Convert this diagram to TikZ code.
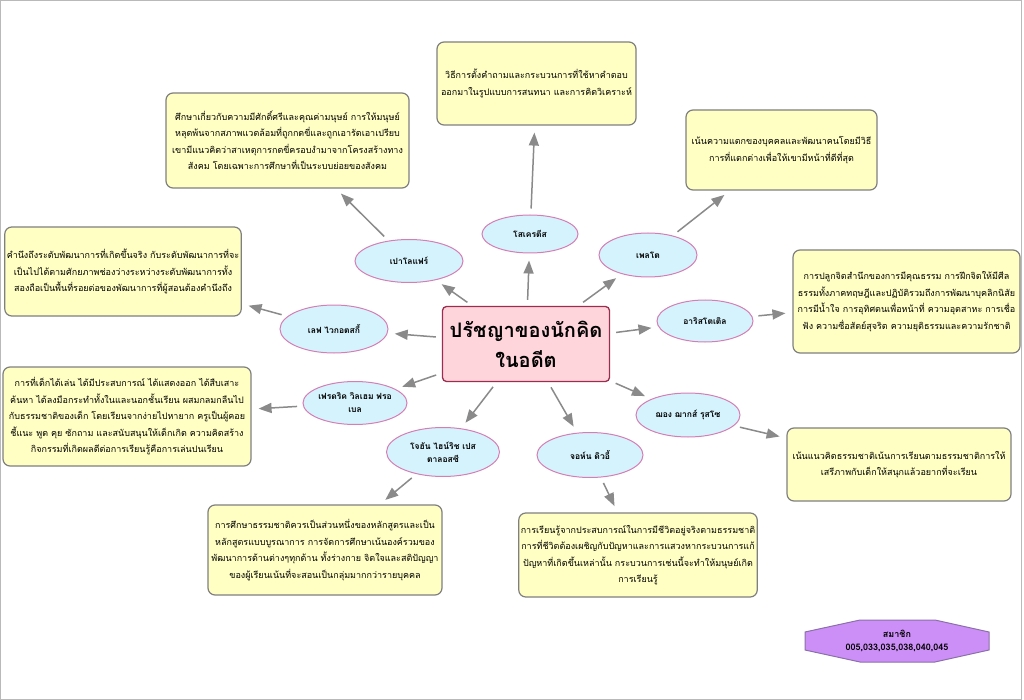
\documentclass[tikz,border=0pt]{standalone}
\usepackage{fontspec}
\setmainfont[Script=Thai, BoldFont={Loma Bold}]{Loma}
\usetikzlibrary{arrows.meta,shapes.geometric}
\definecolor{notefill}{HTML}{FFFFC4}
\definecolor{noteline}{HTML}{7F7F7F}
\definecolor{ovalfill}{HTML}{D5F3FD}
\definecolor{ovalline}{HTML}{D67DB4}
\definecolor{mainfill}{HTML}{FFD5DC}
\definecolor{mainline}{HTML}{9B2D4F}
\definecolor{tipgray}{HTML}{8A8A8A}
\definecolor{teamfill}{HTML}{CC8FF7}
\definecolor{teamline}{HTML}{8B6FA8}
\begin{document}
\begin{tikzpicture}[x=1pt, y=-1pt,
    note/.style={draw=noteline, fill=notefill, rounded corners=7pt, line width=1.2pt,
        align=center, inner sep=2pt, font=\fontsize{9}{16.5}\selectfont},
    thinker/.style={ellipse, draw=ovalline, fill=ovalfill, line width=1pt, align=center,
        inner sep=0pt, font=\bfseries\fontsize{8.5}{13}\selectfont},
    arrow/.style={-{Triangle[length=13pt,width=10pt]}, line width=1.5pt, draw=tipgray,
        shorten <=6pt, shorten >=7pt}
]
\useasboundingbox (0,0) rectangle (1024,700);
\draw[gray!55, line width=1pt] (0.5,0.5) rectangle (1021.5,699.5);

% centre
\node[draw=mainline, fill=mainfill, rounded corners=4pt, line width=1.3pt, align=center,
    minimum width=167pt, minimum height=75pt, font=\bfseries\fontsize{20}{30}\selectfont]
    (C) at (526,344) {ปรัชญาของนักคิด\\ในอดีต};

% thinkers
\node[thinker, minimum width=96pt, minimum height=38pt] (P1) at (530,234) {โสเครตีส};
\node[thinker, minimum width=98pt, minimum height=44pt] (P2) at (648,255) {เพลโต};
\node[thinker, minimum width=108pt, minimum height=43pt] (P3) at (409,261) {เปาโลแฟร์};
\node[thinker, minimum width=108pt, minimum height=48pt] (P4) at (334,329) {เลฟ ไวกอตสกี้};
\node[thinker, minimum width=96pt, minimum height=42pt] (P5) at (705,321) {อาริสโตเติล};
\node[thinker, minimum width=104pt, minimum height=43pt] (P6) at (355,403) {เฟรดริค วิลเฮม ฟรอ\\เบล};
\node[thinker, minimum width=113pt, minimum height=49pt] (P7) at (443,452) {โจฮัน ไฮน์ริช เปส\\ตาลอสซี};
\node[thinker, minimum width=106pt, minimum height=45pt] (P8) at (590,455) {จอห์น ดิวอี้};
\node[thinker, minimum width=104pt, minimum height=44pt] (P9) at (688,415) {ฌอง ฌากส์ รุสโซ};

% ideas
\node[note, minimum width=199pt, minimum height=83pt] (T1) at (536.5,83.5)
    {วิธีการตั้งคำถามและกระบวนการที่ใช้หาคำตอบ\\ออกมาในรูปแบบการสนทนา และการคิดวิเคราะห์};
\node[note, minimum width=191pt, minimum height=80pt] (T2) at (781.5,150)
    {เน้นความแตกของบุคคลและพัฒนาคนโดยมีวิธี\\การที่แตกต่างเพื่อให้เขามีหน้าที่ดีที่สุด};
\node[note, minimum width=243pt, minimum height=95pt] (T3) at (287.5,140.5)
    {ศึกษาเกี่ยวกับความมีศักดิ์ศรีและคุณค่ามนุษย์ การให้มนุษย์\\หลุดพ้นจากสภาพแวดล้อมที่ถูกกดขี่และถูกเอารัดเอาเปรียบ\\เขามีแนวคิดว่าสาเหตุการกดขี่ครอบงำมาจากโครงสร้างทาง\\สังคม โดยเฉพาะการศึกษาที่เป็นระบบย่อยของสังคม};
\node[note, minimum width=236pt, minimum height=89pt] (T4) at (123,271.5)
    {คำนึงถึงระดับพัฒนาการที่เกิดขึ้นจริง กับระดับพัฒนาการที่จะ\\เป็นไปได้ตามศักยภาพช่องว่างระหว่างระดับพัฒนาการทั้ง\\สองถือเป็นพื้นที่รอยต่อของพัฒนาการที่ผู้สอนต้องคำนึงถึง};
\node[note, minimum width=227pt, minimum height=103pt] (T5) at (906.5,301.5)
    {การปลูกจิตสำนึกของการมีคุณธรรม การฝึกจิตให้มีศีล\\ธรรมทั้งภาคทฤษฎีและปฏิบัติรวมถึงการพัฒนาบุคลิกนิสัย\\การมีน้ำใจ การอุทิศตนเพื่อหน้าที่ ความอุตสาหะ การเชื่อ\\ฟัง ความซื่อสัตย์สุจริต ความยุติธรรมและความรักชาติ};
\node[note, minimum width=248pt, minimum height=99pt] (T6) at (127,416.5)
    {การที่เด็กได้เล่น ได้มีประสบการณ์ ได้แสดงออก ได้สืบเสาะ\\ค้นหา ได้ลงมือกระทำทั้งในและนอกชั้นเรียน ผสมกลมกลืนไป\\กับธรรมชาติของเด็ก โดยเรียนจากง่ายไปหายาก ครูเป็นผู้คอย\\ชี้แนะ พูด คุย ซักถาม และสนับสนุนให้เด็กเกิด ความคิดสร้าง\\กิจกรรมที่เกิดผลดีต่อการเรียนรู้คือการเล่นปนเรียน};
\node[note, minimum width=234pt, minimum height=90pt] (T7) at (325,550)
    {การศึกษาธรรมชาติควรเป็นส่วนหนึ่งของหลักสูตรและเป็น\\หลักสูตรแบบบูรณาการ การจัดการศึกษาเน้นองค์รวมของ\\พัฒนาการด้านต่างๆทุกด้าน ทั้งร่างกาย จิตใจและสติปัญญา\\ของผู้เรียนเน้นที่จะสอนเป็นกลุ่มมากกว่ารายบุคคล};
\node[note, minimum width=238pt, minimum height=84pt] (T8) at (638,555)
    {การเรียนรู้จากประสบการณ์ในการมีชีวิตอยู่จริงตามธรรมชาติ\\การที่ชีวิตต้องเผชิญกับปัญหาและการแสวงหากระบวนการแก้\\ปัญหาที่เกิดขึ้นเหล่านั้น กระบวนการเช่นนี้จะทำให้มนุษย์เกิด\\การเรียนรู้};
\node[note, minimum width=224pt, minimum height=73pt] (T9) at (899,464.5)
    {เน้นแนวคิดธรรมชาติเน้นการเรียนตามธรรมชาติการให้\\เสรีภาพกับเด็กให้สนุกแล้วอยากที่จะเรียน};

% members
\draw[draw=teamline, fill=teamfill, line width=1pt]
    (805,632) -- (860,620) -- (935,620) -- (989,632) -- (989,650)
    -- (935,662) -- (860,662) -- (805,650) -- cycle;
\node[align=center, font=\bfseries\fontsize{9}{13}\selectfont] (M) at (897,641)
    {สมาชิก\\005,033,035,038,040,045};

\foreach \i in {1,...,9}
    \draw[arrow] (C) -- (P\i);
\foreach \i in {1,...,9}
    \draw[arrow] (P\i) -- (T\i);

\end{tikzpicture}
\end{document}
